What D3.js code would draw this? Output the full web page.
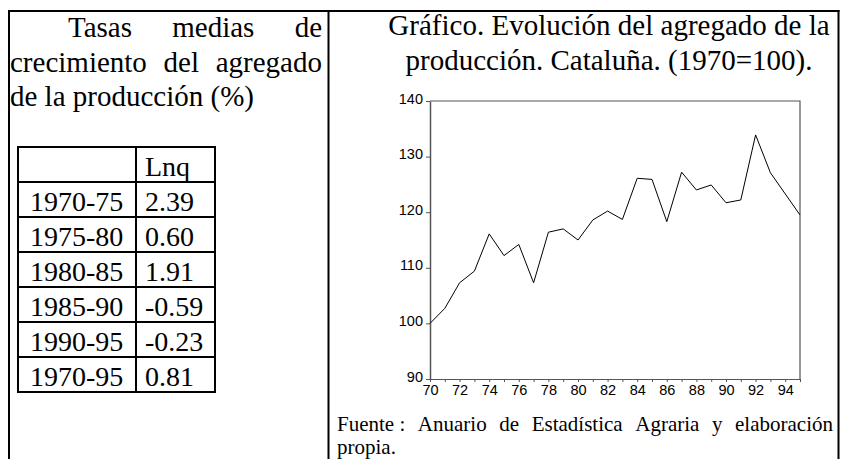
<!DOCTYPE html>
<html>
<head>
<meta charset="utf-8">
<script src="https://cdn.jsdelivr.net/npm/d3@7"></script>
<style>
  body { margin: 0; background: #fff; }
  svg { display: block; background: #fff; }
  .serif { font-family: "Liberation Serif", "Times New Roman", serif; fill: #000; }
  .axis text { font-family: "Liberation Sans", Arial, sans-serif; font-size: 14.5px; fill: #000; }
  .axis path, .axis line { stroke: #555; }
</style>
</head>
<body>
<svg id="chart" width="844" height="459"></svg>
<script>
// ---- data ----
const years = [1970, 1971, 1972, 1973, 1974, 1975, 1976, 1977, 1978, 1979, 1980, 1981, 1982,
               1983, 1984, 1985, 1986, 1987, 1988, 1989, 1990, 1991, 1992, 1993, 1994, 1995];
const production = [100, 102.7, 107.3, 109.4, 116.1, 112.2, 114.2, 107.3, 116.4, 117.0, 115.0, 118.6, 120.2,
                    118.7, 126.1, 125.9, 118.3, 127.2, 124.0, 124.9, 121.7, 122.2, 133.9, 127.1, 123.3, 119.5];
const yTicks = [90, 100, 110, 120, 130, 140];

const tableHead = ["", "Lnq"];
const periods = ["1970-75", "1975-80", "1980-85", "1985-90", "1990-95", "1970-95"];
const rates = ["2.39", "0.60", "1.91", "-0.59", "-0.23", "0.81"];

const headingLines = [["Tasas", "medias", "de"], ["crecimiento", "del", "agregado"], ["de la producción (%)"]];
const titleLines = ["Gráfico. Evolución del agregado de la", "producción. Cataluña. (1970=100)."];
const sourceLines = [["Fuente :", "Anuario", "de", "Estadística", "Agraria", "y", "elaboración"], ["propia."]];

const svg = d3.select('#chart');

//---------- outer frame (table borders, open at the bottom) ----------
const frame = svg.append('g').attr('stroke', '#000').attr('stroke-width', 2);
frame.append('line').attr('x1', 8).attr('x2', 839.5).attr('y1', 11).attr('y2', 11);
[9, 328.5, 838.5].forEach(x =>
  frame.append('line').attr('x1', x).attr('x2', x).attr('y1', 10).attr('y2', 470));

//---------- justified text helper ----------
function justify(words, x0, x1, y, size, last) {
  const g = svg.append('g').attr('class', 'serif').style('font-size', size + 'px');
  const t = words.map(w => g.append('text').attr('y', y).text(w));
  const widths = t.map(s => s.node().getComputedTextLength());
  const total = d3.sum(widths);
  const gap = (last || words.length < 2) ? size * 0.25 : (x1 - x0 - total) / (words.length - 1);
  let x = x0;
  t.forEach((s, i) => { s.attr('x', x); x += widths[i] + gap; });
}

// left heading
justify(headingLines[0], 68, 322, 37, 29);
justify(headingLines[1], 10, 322, 72, 29);
justify(headingLines[2], 10, 322, 106, 29, true);

//---------- table ----------
const tbl = { x: [18, 136, 215], y0: 147, rowH: 35 };
const rows = [tableHead].concat(periods.map((p, i) => [p, rates[i]]));
const tg = svg.append('g');
tg.append('g').attr('stroke', '#000').attr('stroke-width', 2).call(g => {
  rows.forEach((r, i) => g.append('line')
    .attr('x1', tbl.x[0] - 1).attr('x2', tbl.x[2] + 1)
    .attr('y1', tbl.y0 + i * tbl.rowH).attr('y2', tbl.y0 + i * tbl.rowH));
  g.append('line').attr('x1', tbl.x[0] - 1).attr('x2', tbl.x[2] + 1)
    .attr('y1', tbl.y0 + rows.length * tbl.rowH).attr('y2', tbl.y0 + rows.length * tbl.rowH);
  tbl.x.forEach(x => g.append('line').attr('x1', x).attr('x2', x)
    .attr('y1', tbl.y0).attr('y2', tbl.y0 + rows.length * tbl.rowH));
});
rows.forEach((r, i) => {
  tg.append('text').attr('class', 'serif').style('font-size', '28px')
    .attr('x', 30).attr('y', tbl.y0 + (i + 1) * tbl.rowH - 6).text(r[0]);
  tg.append('text').attr('class', 'serif').style('font-size', '28px')
    .attr('x', 145).attr('y', tbl.y0 + (i + 1) * tbl.rowH - 6).text(r[1]);
});

//---------- title ----------
titleLines.forEach((l, i) => svg.append('text').attr('class', 'serif')
  .style('font-size', '29px').attr('text-anchor', 'middle')
  .attr('x', 609).attr('y', 35 + i * 35).text(l));

//---------- line chart ----------
const x = d3.scaleLinear().domain([1970, 1995]).range([430, 800]);
const y = d3.scaleLinear().domain([90, 140]).range([379, 101]);

svg.append('g').attr('class', 'axis')
  .attr('transform', 'translate(0,379)')
  .call(d3.axisBottom(x).tickValues(years).tickSize(3).tickSizeOuter(0)
    .tickFormat(d => d % 2 === 0 && d < 1995 ? String(d).slice(2) : ''))
  .call(g => g.selectAll('text').attr('dy', '0.72em'));

svg.append('g').attr('class', 'axis')
  .attr('transform', 'translate(430,0)')
  .call(d3.axisLeft(y).tickValues(yTicks).tickSize(4).tickSizeOuter(0).tickPadding(3))
  .call(g => g.selectAll('text').attr('dy', '0.15em'))
  .call(g => g.select('.domain').attr('stroke-width', 1.5).attr('stroke', '#777'));

// box: top and right edges
svg.append('path')
  .attr('d', `M${x(1970)},${y(140)}H${x(1995)}V${y(90)}`)
  .attr('fill', 'none').attr('stroke', '#555').attr('stroke-width', 1.2);

svg.append('path')
  .datum(years.map((yr, i) => [yr, production[i]]))
  .attr('fill', 'none').attr('stroke', '#000').attr('stroke-width', 1)
  .attr('d', d3.line().x(d => x(d[0])).y(d => y(d[1])));

//---------- source note ----------
justify(sourceLines[0], 337, 833, 431, 21);
justify(sourceLines[1], 337, 833, 454, 21, true);
</script>
</body>
</html>
